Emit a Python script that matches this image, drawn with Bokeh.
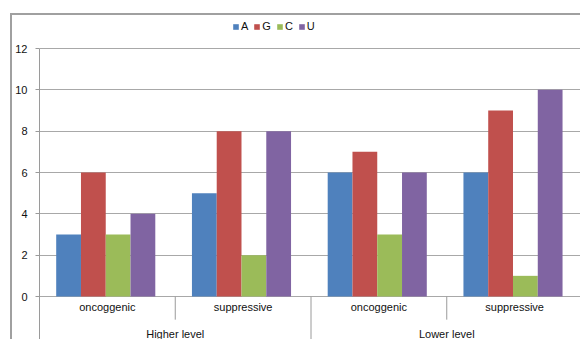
from bokeh.plotting import figure
from bokeh.models import FactorRange, ColumnDataSource, Legend, LegendItem, FixedTicker, Range1d
from bokeh.transform import dodge
from bokeh.core.properties import value
from bokeh.embed import file_html
from bokeh.resources import INLINE

levels = ["Higher level", "Lower level"]
subtypes = ["oncoggenic", "suppressive"]
series = ["A", "G", "C", "U"]
colors = ["#4f81bd", "#c0504d", "#9bbb59", "#8064a2"]
vals_A = [3, 5, 6, 6]
vals_G = [6, 8, 7, 9]
vals_C = [3, 2, 3, 1]
vals_U = [4, 8, 6, 10]
y_ticks = [0, 2, 4, 6, 8, 10, 12]

factors = [(lv, st) for lv in levels for st in subtypes]
data = {"x": factors, "A": vals_A, "G": vals_G, "C": vals_C, "U": vals_U}
src = ColumnDataSource(data)

FONT = "Liberation Sans"
W, H = 570, 326
Y0, Y1 = -2.177, 13.597

xr = FactorRange(*factors, range_padding=0, group_padding=0, factor_padding=0, subgroup_padding=0)
p = figure(x_range=xr, y_range=Range1d(Y0, Y1), width=W, height=H,
           output_backend="svg", toolbar_location=None, x_axis_location=None,
           min_border_left=25, min_border_top=0, min_border_right=0, min_border_bottom=0)
p.margin = (13, 0, 0, 10)
p.styles = {"border-left": "2px solid #a0a0a0", "border-top": "2px solid #a0a0a0"}
p.outline_line_color = None
p.background_fill_color = "white"
p.border_fill_color = "white"

bw = 0.1825
offsets = [-1.5 * bw, -0.5 * bw, 0.5 * bw, 1.5 * bw]
renderers = []
for s, c, off in zip(series, colors, offsets):
    r = p.vbar(x=dodge("x", off - 0.012, range=p.x_range), top=s, width=bw, source=src,
               fill_color=c, line_color=None)
    renderers.append(r)

# gridlines
p.xgrid.grid_line_color = None
p.ygrid.grid_line_color = "#a8a8a8"
p.ygrid.grid_line_width = 1
p.yaxis.ticker = FixedTicker(ticks=y_ticks)
p.ygrid.ticker = FixedTicker(ticks=y_ticks)
p.yaxis.bounds = (Y0, y_ticks[-1])
p.yaxis.axis_line_color = "#9a9a9a"
p.yaxis.major_tick_line_color = "#9a9a9a"
p.yaxis.major_tick_out = 4
p.yaxis.major_tick_in = 0
p.yaxis.minor_tick_line_color = None
p.yaxis.major_label_standoff = 8
p.yaxis.major_label_text_font = FONT
p.yaxis.major_label_text_font_size = "11px"
p.yaxis.major_label_text_color = "#111111"

# category separators
short_x, long_x = [], []
for lv in levels:
    for i, st in enumerate(subtypes):
        if i < len(subtypes) - 1:
            short_x.append((lv, st))
        elif lv != levels[-1]:
            long_x.append((lv, st))
sep_short = ColumnDataSource({"x": short_x, "y0": [0] * len(short_x), "y1": [-1.12] * len(short_x)})
sep_long = ColumnDataSource({"x": long_x, "y0": [0] * len(long_x), "y1": [Y0] * len(long_x)})
p.segment(x0=dodge("x", 0.5, range=p.x_range), x1=dodge("x", 0.5, range=p.x_range),
          y0="y0", y1="y1", source=sep_short, line_color="#9a9a9a", line_width=1)
p.segment(x0=dodge("x", 0.5, range=p.x_range), x1=dodge("x", 0.5, range=p.x_range),
          y0="y0", y1="y1", source=sep_long, line_color="#9a9a9a", line_width=1)

# category labels
lab_src = ColumnDataSource({"x": factors, "t": [f[1] for f in factors], "y": [-0.53] * len(factors)})
p.text(x="x", y="y", text="t", source=lab_src, text_font=value(FONT), text_font_size="11px",
       text_align="center", text_baseline="middle", text_color="#111111")
grp_src = ColumnDataSource({"x": levels, "t": levels, "y": [-1.79] * len(levels)})
p.text(x="x", y="y", text="t", source=grp_src, text_font=value(FONT), text_font_size="11px",
       text_align="center", text_baseline="middle", text_color="#111111")

legend = Legend(items=[LegendItem(label=s, renderers=[r]) for s, r in zip(series, renderers)],
                orientation="horizontal", location=(193, 309))
legend.glyph_width = 7
legend.glyph_height = 7
legend.label_standoff = 2
legend.label_width = 0
legend.spacing = 5
legend.padding = 0
legend.margin = 0
legend.border_line_color = None
legend.background_fill_alpha = 0
legend.label_text_font = FONT
legend.label_text_font_size = "11px"
legend.label_height = 10
legend.label_text_color = "#111111"
p.add_layout(legend, "center")

open("out.html", "w").write(file_html(p, INLINE))
